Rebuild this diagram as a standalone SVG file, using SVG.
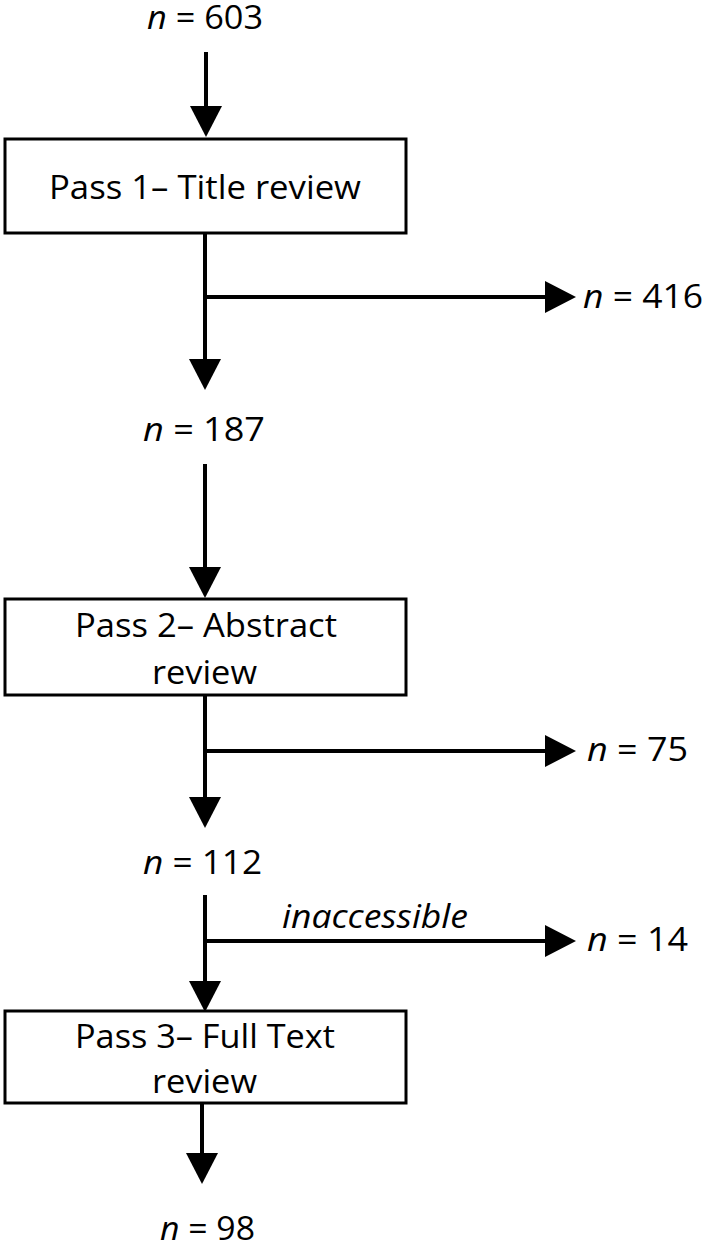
<svg xmlns="http://www.w3.org/2000/svg" width="708" height="1250" viewBox="0 0 708 1250">
<style>
text{font-family:"Open Sans","Noto Sans",sans-serif;font-size:32px;fill:#000}
.i{font-style:italic}
.box{fill:#fff;stroke:#000;stroke-width:3}
.ln{fill:none;stroke:#000;stroke-width:4}
</style>
<defs>
<marker id="ah" markerUnits="userSpaceOnUse" markerWidth="32" markerHeight="32" refX="0" refY="16" orient="auto" viewBox="0 0 31 32">
<path d="M0,0 L31,16 L0,32 z" fill="#000"/>
</marker>
</defs>
<g id="connectors">
<line class="ln" x1="206" y1="52" x2="206" y2="106" marker-end="url(#ah)"/>
<line class="ln" x1="205" y1="233" x2="205" y2="359" marker-end="url(#ah)"/>
<line class="ln" x1="205" y1="297" x2="545" y2="297" marker-end="url(#ah)"/>
<line class="ln" x1="205" y1="464" x2="205" y2="567" marker-end="url(#ah)"/>
<line class="ln" x1="205" y1="695" x2="205" y2="797" marker-end="url(#ah)"/>
<line class="ln" x1="205" y1="751" x2="545" y2="751" marker-end="url(#ah)"/>
<line class="ln" x1="205" y1="895" x2="205" y2="981" marker-end="url(#ah)"/>
<line class="ln" x1="205" y1="941" x2="545" y2="941" marker-end="url(#ah)"/>
<line class="ln" x1="202" y1="1103" x2="202" y2="1153" marker-end="url(#ah)"/>
<text class="i" x="282" y="928" textLength="186" lengthAdjust="spacingAndGlyphs">inaccessible</text>
</g>
<g id="n603"><text x="147" y="29" textLength="116" lengthAdjust="spacingAndGlyphs"><tspan class="i">n</tspan> = 603</text></g>
<g id="pass1">
<rect class="box" x="5" y="139" width="401" height="94"/>
<text x="49" y="199" textLength="312" lengthAdjust="spacingAndGlyphs">Pass 1– Title review</text>
</g>
<g id="n416"><text x="583" y="308" textLength="120" lengthAdjust="spacingAndGlyphs"><tspan class="i">n</tspan> = 416</text></g>
<g id="n187"><text x="143" y="441" textLength="122" lengthAdjust="spacingAndGlyphs"><tspan class="i">n</tspan> = 187</text></g>
<g id="pass2">
<rect class="box" x="5" y="599" width="401" height="96"/>
<text x="75" y="637" textLength="262" lengthAdjust="spacingAndGlyphs">Pass 2– Abstract</text>
<text x="152" y="684" textLength="105" lengthAdjust="spacingAndGlyphs">review</text>
</g>
<g id="n75"><text x="587" y="761" textLength="101" lengthAdjust="spacingAndGlyphs"><tspan class="i">n</tspan> = 75</text></g>
<g id="n112"><text x="143" y="874" textLength="119" lengthAdjust="spacingAndGlyphs"><tspan class="i">n</tspan> = 112</text></g>
<g id="n14"><text x="587" y="951" textLength="101" lengthAdjust="spacingAndGlyphs"><tspan class="i">n</tspan> = 14</text></g>
<g id="pass3">
<rect class="box" x="5" y="1011" width="401" height="92"/>
<text x="75" y="1048" textLength="260" lengthAdjust="spacingAndGlyphs">Pass 3– Full Text</text>
<text x="152" y="1093" textLength="105" lengthAdjust="spacingAndGlyphs">review</text>
</g>
<g id="n98"><text x="160" y="1240" textLength="95" lengthAdjust="spacingAndGlyphs"><tspan class="i">n</tspan> = 98</text></g>
</svg>
